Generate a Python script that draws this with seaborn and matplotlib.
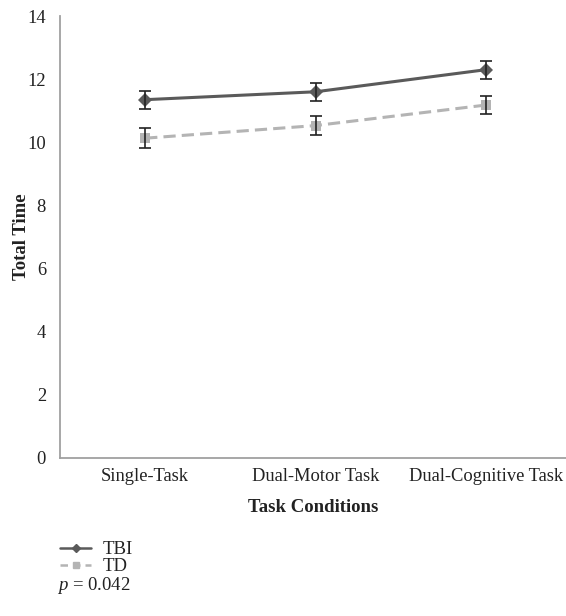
import pandas as pd
import matplotlib.pyplot as plt
import seaborn as sns
from matplotlib.lines import Line2D

sns.set_theme(style="white")
plt.rcParams['font.family'] = ['Liberation Serif', 'DejaVu Serif']
plt.rcParams['mathtext.fontset'] = 'custom'
plt.rcParams['mathtext.it'] = 'Liberation Serif:italic'
plt.rcParams['mathtext.rm'] = 'Liberation Serif'

conditions = ['Single-Task', 'Dual-Motor Task', 'Dual-Cognitive Task']
tbi_mean = [11.35, 11.60, 12.30]
tbi_err = [0.29, 0.28, 0.29]
td_mean = [10.13, 10.53, 11.18]
td_err = [0.31, 0.30, 0.29]

df = pd.DataFrame({
    'Condition': conditions * 2,
    'Total Time': tbi_mean + td_mean,
    'Group': ['TBI'] * 3 + ['TD'] * 3,
})

fig = plt.figure(figsize=(5.66, 6.16), dpi=100)
ax = fig.add_axes([0.106, 0.2565, 0.894, 0.7175])

colors = {'TBI': '#5a5a5a', 'TD': '#b4b4b4'}
sns.lineplot(data=df, x='Condition', y='Total Time', hue='Group', style='Group',
             palette=colors, markers={'TBI': 'D', 'TD': 's'},
             dashes={'TBI': (None, None), 'TD': (4, 2)},
             markersize=7.5, linewidth=2.2, markeredgewidth=0, legend=False, ax=ax)

x = list(range(len(conditions)))
ax.errorbar(x, tbi_mean, yerr=tbi_err, fmt='none', ecolor='#222222', elinewidth=1.2, capsize=4, capthick=1.2)
ax.errorbar(x, td_mean, yerr=td_err, fmt='none', ecolor='#222222', elinewidth=1.2, capsize=4, capthick=1.2)

ax.set_ylim(0, 14)
ax.set_yticks(range(0, 15, 2))
ax.set_xlim(-0.5, 2.47)
ax.tick_params(axis='both', length=0, labelsize=13.3, colors='#222222')
ax.tick_params(axis='x', pad=7)
ax.tick_params(axis='y', pad=10)
for s in ['top', 'right']:
    ax.spines[s].set_visible(False)
for s in ['left', 'bottom']:
    ax.spines[s].set_color('#a0a0a0')
    ax.spines[s].set_linewidth(1.3)

ax.set_xlabel('Task Conditions', fontsize=13.5, fontweight='bold', color='#222222')
ax.set_ylabel('Total Time', fontsize=13.5, fontweight='bold', color='#222222')
ax.xaxis.set_label_coords(0.5, -0.111)
ax.yaxis.set_label_coords(-0.077, 0.5)
ax.xaxis.label.set_va('center')
ax.yaxis.label.set_va('center')

handles = [
    Line2D([], [], color=colors['TBI'], marker='D', markersize=4, linewidth=1.8),
    Line2D([], [], color=colors['TD'], marker='s', markersize=4, linewidth=1.8, linestyle=(0, (3, 2))),
]
fig.legend(handles, ['TBI', 'TD'], loc='upper left', bbox_to_anchor=(0.092, 0.134),
           frameon=False, fontsize=13.5, handlelength=1.7, handletextpad=0.6,
           labelspacing=0.0, borderaxespad=0, labelcolor='#222222')
fig.text(0.101, 0.042, '$p$ = 0.042', fontsize=13.5, color='#222222')

fig.savefig('out.png', dpi=100)
